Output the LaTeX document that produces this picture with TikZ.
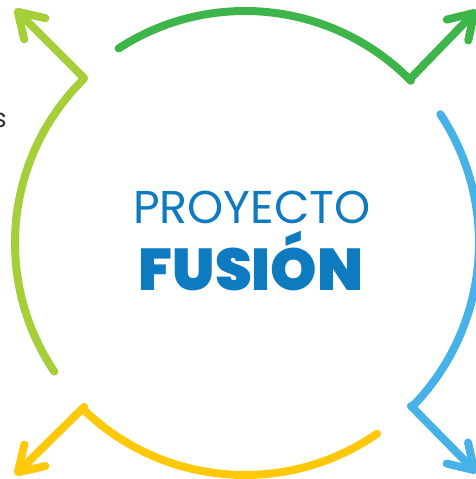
\documentclass[tikz,border=0pt]{standalone}
\usepackage{fontspec}
\usetikzlibrary{arrows.meta}
\newfontfamily\thinfont{Poppins}
\newfontfamily\fatfont{Poppins Black}
\definecolor{arcgreen}{HTML}{3DB54A}
\definecolor{arclime}{HTML}{A4CF38}
\definecolor{arcblue}{HTML}{46B2E8}
\definecolor{arcyellow}{HTML}{FFC90A}
\definecolor{titleblue}{HTML}{0E7AC0}
\tikzset{ring arrow/.style={line width=8pt,line cap=round,line join=round,-{Straight Barb[round,length=24pt,width=30pt]}}}
\begin{document}
\begin{tikzpicture}[x=1pt,y=1pt]
\useasboundingbox (0,0) rectangle (476,479);
\coordinate (hub) at (245,236);
\coordinate (v1) at (411,401);
\coordinate (t1) at (477,469);
\coordinate (v2) at (411,73);
\coordinate (t2) at (477,6);
\coordinate (v3) at (84,72);
\coordinate (t3) at (15,4);
\coordinate (v4) at (84,401);
\coordinate (t4) at (15,470);
\draw [ring arrow,arcgreen] (hub) ++(123:232) arc[start angle=123,end angle=44.4,radius=232] -- (v1) -- (t1);
\draw [ring arrow,arcblue] (hub) ++(33.4:234) arc[start angle=33.4,end angle=-44.6,radius=234] -- (v2) -- (t2);
\draw [ring arrow,arcyellow] (hub) ++(-55.3:232) arc[start angle=-55.3,end angle=-134.2,radius=232] -- (v3) -- (t3);
\draw [ring arrow,arclime] (hub) ++(-146:230) arc[start angle=-146,end angle=-225.6,radius=230] -- (v4) -- (t4);
\node (title) at (252,272) {\thinfont\fontsize{46}{46}\selectfont\color{titleblue}PROYECTO};
\node (name) at (251,218) {\fatfont\fontsize{59}{59}\selectfont\color{titleblue}FUSIÓN};
\node (stray) at (0,359) {\thinfont\fontsize{26}{26}\selectfont\color{black!80}s};
\end{tikzpicture}
\end{document}
